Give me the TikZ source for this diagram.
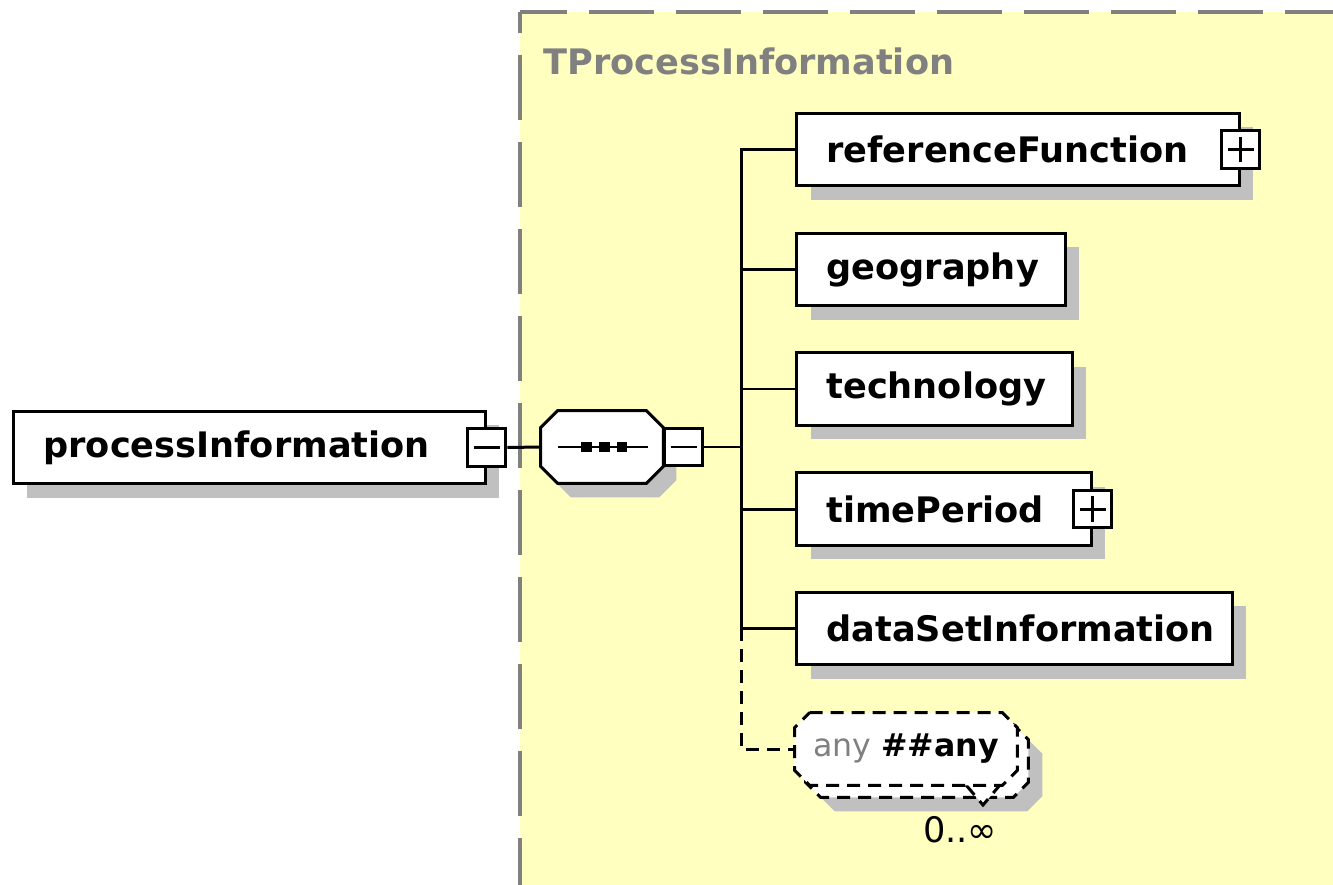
\documentclass[tikz,border=0pt]{standalone}
\usepackage{fontspec}
\setmainfont{DejaVu Sans}
\usetikzlibrary{shadows}
\hyphenpenalty=10000

\definecolor{panelyellow}{RGB}{255,255,192}
\definecolor{shadowgray}{RGB}{192,192,192}
\definecolor{framegray}{RGB}{128,128,128}

% octagon round a named node: style, node, corner cut
\newcommand{\octapath}[3]{%
  \path[#1] ([xshift=#3]#2.north west) -- ([xshift=-#3]#2.north east) -- ([yshift=-#3]#2.north east)
    -- ([yshift=#3]#2.south east) -- ([xshift=-#3]#2.south east) -- ([xshift=#3]#2.south west)
    -- ([yshift=#3]#2.south west) -- ([yshift=-#3]#2.north west) -- cycle;}

\tikzset{
  boxshadow/.style={drop shadow={shadow xshift=0.28cm, shadow yshift=-0.28cm, fill=shadowgray, opacity=1}},
  elem/.style={rectangle, draw, line width=0.06cm, fill=white, anchor=west, minimum height=1.46cm,
    inner xsep=0.6cm, inner ysep=0pt, align=left, font=\fontsize{20}{24}\selectfont\bfseries, boxshadow},
  expander/.style={rectangle, draw, line width=0.06cm, fill=white, minimum size=0.76cm, inner sep=0pt},
  minusbox/.style={expander, path picture={
    \draw[line width=0.06cm] ([xshift=-0.26cm]path picture bounding box.center) -- ([xshift=0.26cm]path picture bounding box.center);}},
  plusbox/.style={expander, path picture={
    \draw[line width=0.06cm] ([xshift=-0.26cm]path picture bounding box.center) -- ([xshift=0.26cm]path picture bounding box.center);
    \draw[line width=0.06cm] ([yshift=-0.26cm]path picture bounding box.center) -- ([yshift=0.26cm]path picture bounding box.center);}},
  seqbox/.style={rectangle, inner sep=0pt, minimum width=2.44cm, minimum height=1.44cm},
  anybox/.style={rectangle, inner sep=0pt, minimum width=4.44cm, minimum height=1.44cm},
  anyline/.style={line width=0.06cm, dash pattern=on 0.26cm off 0.16cm},
  anytext/.style={inner sep=0pt, font=\fontsize{18}{22}\selectfont},
  conn/.style={line width=0.06cm, color=black},
  frame/.style={draw=framegray, line width=0.08cm, dash pattern=on 1.3cm off 0.44cm},
  title/.style={anchor=west, inner sep=0pt, text=framegray, font=\fontsize{20}{24}\selectfont\bfseries},
  occurs/.style={inner sep=0pt, font=\fontsize{20}{24}\selectfont}
}

\begin{document}
\begin{tikzpicture}[x=0.02cm, y=-0.02cm]
\useasboundingbox (0,0) rectangle (1333,885);

% complex type panel
\fill[panelyellow] (520,12) rectangle (1333,885);
\draw[frame, dash phase=0.88cm] (520,12) -- (520,885);
\draw[frame, dash phase=0.36cm] (520,12) -- (1333,12);
\node[title] (tname) at (543,61) {TProcessInformation};

% root element and sequence
\node[elem, text width=8.24cm] (pi) at (12,447.5) {processInformation};
\node[minusbox] (piminus) at (pi.east) {};
\node[seqbox] (seqback) at (615,461) {};
\octapath{fill=shadowgray}{seqback}{0.34cm}
\node[seqbox] (seq) at (602,447) {};
\octapath{draw, fill=white, line width=0.06cm}{seq}{0.34cm}
\node[minusbox, anchor=west] (seqminus) at (seq.east) {};
\draw[line width=0.06cm] ([xshift=-0.88cm]seq.center) -- ([xshift=0.92cm]seq.center);
\fill ([shift={(-0.43cm,-0.11cm)}]seq.center) rectangle +(0.22cm,0.22cm);
\fill ([shift={(-0.07cm,-0.11cm)}]seq.center) rectangle +(0.22cm,0.22cm);
\fill ([shift={(0.29cm,-0.11cm)}]seq.center) rectangle +(0.22cm,0.22cm);
\coordinate (bus) at (741,447);

% children
\node[elem, text width=7.66cm] (rf) at (795,149.5) {referenceFunction};
\node[plusbox] (rfplus) at (rf.east) {};
\node[elem, text width=4.18cm] (geo) at (795,269.5) {geography};
\node[elem, text width=4.32cm] (tech) at (795,389) {technology};
\node[elem, text width=4.70cm] (tp) at (795,509) {timePeriod};
\node[plusbox] (tpplus) at (tp.east) {};
\node[elem, text width=7.52cm] (dsi) at (795,628.5) {dataSetInformation};

% any, repeated
\node[anybox] (anyshadow) at (931,775) {};
\octapath{fill=shadowgray}{anyshadow}{0.3cm}
\node[anybox] (anyback) at (917,761) {};
\octapath{draw, fill=white, anyline}{anyback}{0.3cm}
\filldraw[anyline, fill=white] (966,785) -- (983,805) -- (1000,785);
\node[anybox] (any) at (906,749) {};
\octapath{draw, fill=white, anyline}{any}{0.3cm}
\node[anytext] (anylabel) at (any.center) {{\color{framegray}any} \textbf{\#\#any}};
\node[occurs] (anyocc) at (960,830) {0..∞};

% connectors
\draw[conn] (piminus.east) -- (seq.west);
\draw[conn] (seqminus.east) -- (bus);
\draw[conn] (rf.west) -| (dsi.west -| bus) -- (dsi.west);
\draw[conn] (geo.west -| bus) -- (geo.west);
\draw[conn] (tech.west -| bus) -- (tech.west);
\draw[conn] (tp.west -| bus) -- (tp.west);
\draw[conn, anyline] (dsi.west -| bus) |- (any.west);
\end{tikzpicture}
\end{document}
